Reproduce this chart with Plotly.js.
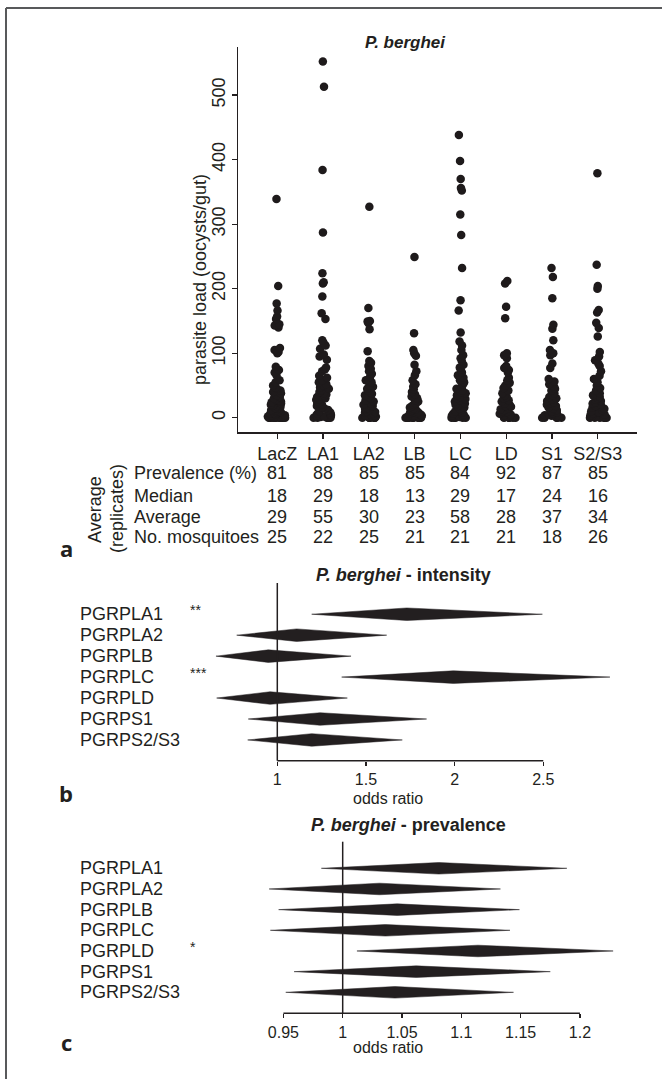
<!DOCTYPE html>
<html><head><meta charset="utf-8">
<script src="https://cdn.plot.ly/plotly-3.0.1.min.js"></script>
<style>html,body{margin:0;padding:0;background:#fff}</style>
</head><body><div id="chart" style="width:662px;height:1079px"></div>
<script>
// ---------- Panel a data ----------
const categories = ['LacZ','LA1','LA2','LB','LC','LD','S1','S2/S3'];
const loadLacZ = [339,204,177,166,157,153,145,143,140,108,105,102,100,79,74,70,66,58,55,50,47,45,42,40,38,35,32,30,28,27,25,24,22,20,19,18,17,15,14,12,11,10,9,8,7,6,5,4,3,2,1,0,0,0,0,0,0,0,0,0,0,0,0];
const loadLA1 = [552,513,384,287,224,210,208,188,162,153,120,116,112,107,98,95,90,78,75,72,65,62,58,55,52,50,47,45,42,40,38,36,34,32,30,29,28,26,24,22,20,18,16,14,12,10,8,6,5,4,3,2,1,0,0,0,0,0];
const loadLA2 = [327,170,150,149,147,137,103,88,85,80,76,72,68,63,58,55,50,48,45,42,40,37,35,32,30,27,25,22,20,18,17,15,14,12,10,9,8,6,5,4,3,2,1,0,0,0,0,0,0,0];
const loadLB = [249,131,105,100,96,82,72,66,58,52,48,44,40,36,33,30,27,25,22,20,18,16,14,13,12,10,9,8,7,6,5,4,3,2,1,0,0,0,0,0,0,0,0,0];
const loadLC = [438,398,370,356,352,315,283,232,182,166,132,118,112,105,97,92,88,82,78,75,70,66,62,58,55,52,48,45,42,40,38,35,32,30,29,27,25,22,20,18,16,14,12,10,8,6,5,4,3,2,1,0,0,0,0,0];
const loadLD = [212,208,172,154,100,97,92,80,77,74,70,62,58,54,50,46,42,38,35,32,30,27,25,22,20,18,17,15,13,12,10,9,8,6,5,4,3,2,1,0,0,0,0,0];
const loadS1 = [232,218,185,144,138,120,105,100,97,84,77,60,56,52,48,45,42,38,35,32,30,28,26,24,22,20,18,16,14,12,10,8,7,5,4,3,2,1,0,0,0,0,0];
const loadS2S3 = [379,237,204,200,167,163,147,139,126,102,95,89,84,80,72,65,60,55,50,46,42,38,35,32,30,28,26,24,22,20,18,17,16,14,12,10,9,8,6,5,4,3,2,1,0,0,0,0,0,0];
const yTicks = [0,100,200,300,400,500];

// table below panel a
const rowLabels = ['Prevalence (%)','Median','Average','No. mosquitoes'];
const prevalence = [81,88,85,85,84,92,87,85];
const medianLoad = [18,29,18,13,29,17,24,16];
const averageLoad = [29,55,30,23,58,28,37,34];
const mosquitoes = [25,22,25,21,21,21,18,26];

// ---------- Panel b / c data ----------
const genes = ['PGRPLA1','PGRPLA2','PGRPLB','PGRPLC','PGRPLD','PGRPS1','PGRPS2/S3'];
const intensityLow  = [1.194,0.771,0.654,1.363,0.658,0.836,0.833];
const intensityEst  = [1.730,1.109,0.949,1.993,0.959,1.241,1.194];
const intensityHigh = [2.495,1.617,1.416,2.876,1.395,1.842,1.705];
const intensityStars = ['**','','','***','','',''];
const intensityTicks = [1,1.5,2,2.5];

const prevLow  = [0.982,0.938,0.946,0.939,1.012,0.959,0.952];
const prevEst  = [1.081,1.031,1.046,1.036,1.114,1.062,1.044];
const prevHigh = [1.189,1.133,1.149,1.141,1.228,1.175,1.144];
const prevStars = ['','','','','*','',''];
const prevalenceTicks = [0.95,1,1.05,1.1,1.15,1.2];

// ---------- helpers ----------
const W = 662, H = 1079;
const fx = p => p / W;
const fy = p => 1 - p / H;
const INK = '#231f20';
const FONT = 'Liberation Sans, Arial, sans-serif';

const groups = [loadLacZ, loadLA1, loadLA2, loadLB, loadLC, loadLD, loadS1, loadS2S3];
const px = [], py = [];
groups.forEach((g, i) => g.forEach(v => { px.push(categories[i]); py.push(v); }));

const traces = [{
  type: 'box', x: px, y: py, xaxis: 'x', yaxis: 'y',
  boxpoints: 'all', jitter: 0.9, pointpos: 0,
  fillcolor: 'rgba(0,0,0,0)', line: {color: 'rgba(0,0,0,0)', width: 0},
  whiskerwidth: 0, marker: {color: '#1e1a1b', size: 8.5, line: {width: 0}},
  showlegend: false, hoverinfo: 'y'
}];

function diamonds(low, est, high, half, xa, ya) {
  low.forEach((l, i) => {
    traces.push({
      type: 'scatter', mode: 'lines', xaxis: xa, yaxis: ya,
      x: [l, est[i], high[i], est[i], l],
      y: [i, i - half, i, i + half, i],
      fill: 'toself', fillcolor: INK, line: {color: INK, width: 0.5},
      showlegend: false, hoverinfo: 'skip'
    });
  });
}
diamonds(intensityLow, intensityEst, intensityHigh, 0.3, 'x2', 'y2');
diamonds(prevLow, prevEst, prevHigh, 0.28, 'x3', 'y3');

const ann = [];
const txt = (o) => ann.push(Object.assign({showarrow: false, xanchor: 'center', yanchor: 'middle',
  font: {family: FONT, size: 18, color: INK}}, o));

// titles
txt({text: '<b><i>P. berghei</i></b>', xref: 'paper', yref: 'paper', x: fx(405), y: fy(42), font: {family: FONT, size: 17, color: INK}});
txt({text: 'parasite load (oocysts/gut)', textangle: -90, xref: 'paper', yref: 'paper', x: fx(200), y: fy(280)});

// table
const tableRows = [prevalence, medianLoad, averageLoad, mosquitoes];
const rowY = [473.3, 496, 517.3, 537.3];
rowLabels.forEach((r, j) => {
  txt({text: r, xref: 'paper', yref: 'paper', x: fx(132), y: fy(rowY[j]), xanchor: 'left'});
  tableRows[j].forEach((v, i) => txt({text: String(v), xref: 'x', yref: 'paper', x: i, y: fy(rowY[j])}));
});
txt({text: 'Average', textangle: -90, xref: 'paper', yref: 'paper', x: fx(95), y: fy(510)});
txt({text: '(replicates)', textangle: -90, xref: 'paper', yref: 'paper', x: fx(117), y: fy(509)});

// panel letters
const letterFont = {family: 'Open Sans, sans-serif', size: 22, color: INK, weight: 700};
txt({text: '<b>a</b>', xref: 'paper', yref: 'paper', x: fx(66), y: fy(548), font: letterFont});
txt({text: '<b>b</b>', xref: 'paper', yref: 'paper', x: fx(66), y: fy(793), font: letterFont});
txt({text: '<b>c</b>', xref: 'paper', yref: 'paper', x: fx(66), y: fy(1042), font: letterFont});

// panel b labels
txt({text: '<b><i>P. berghei</i> - intensity</b>', xref: 'paper', yref: 'paper', x: fx(403), y: fy(575)});
genes.forEach((g, i) => {
  txt({text: g, xref: 'paper', yref: 'y2', x: fx(78), y: i, xanchor: 'left'});
  if (intensityStars[i]) txt({text: intensityStars[i], xref: 'paper', yref: 'y2', x: fx(188), y: i, xanchor: 'left', yshift: 4, font: {family: FONT, size: 14, color: INK}});
});
txt({text: 'odds ratio', xref: 'paper', yref: 'paper', x: fx(388), y: fy(798), font: {family: FONT, size: 16, color: INK}});

// panel c labels
txt({text: '<b><i>P. berghei</i> - prevalence</b>', xref: 'paper', yref: 'paper', x: fx(408), y: fy(825)});
genes.forEach((g, i) => {
  txt({text: g, xref: 'paper', yref: 'y3', x: fx(78), y: i, xanchor: 'left'});
  if (prevStars[i]) txt({text: prevStars[i], xref: 'paper', yref: 'y3', x: fx(188), y: i, xanchor: 'left', yshift: 4, font: {family: FONT, size: 14, color: INK}});
});
txt({text: 'odds ratio', xref: 'paper', yref: 'paper', x: fx(388), y: fy(1047), font: {family: FONT, size: 16, color: INK}});

const shapes = [
  {type: 'line', xref: 'paper', yref: 'paper', x0: fx(6), x1: 1, y0: fy(8), y1: fy(8), line: {color: '#58595b', width: 2}},
  {type: 'line', xref: 'paper', yref: 'paper', x0: fx(6), x1: fx(6), y0: 0, y1: fy(8), line: {color: '#58595b', width: 2}},
  {type: 'line', xref: 'x2', yref: 'y2 domain', x0: 1, x1: 1, y0: 0, y1: 1, line: {color: INK, width: 1.5}},
  {type: 'line', xref: 'x2', yref: 'y2 domain', x0: intensityTicks[0], x1: intensityTicks[intensityTicks.length - 1], y0: 0, y1: 0, line: {color: INK, width: 1.5}},
  {type: 'line', xref: 'x3', yref: 'y3 domain', x0: 1, x1: 1, y0: 0, y1: 1, line: {color: INK, width: 1.5}},
  {type: 'line', xref: 'x3', yref: 'y3 domain', x0: prevalenceTicks[0], x1: prevalenceTicks[prevalenceTicks.length - 1], y0: 0, y1: 0, line: {color: INK, width: 1.5}}
];

const tickFont = {family: FONT, size: 18, color: INK};
const smallTickFont = {family: FONT, size: 16, color: INK};
const layout = {
  width: W, height: H, margin: {l: 0, r: 0, t: 0, b: 0},
  paper_bgcolor: '#fff', plot_bgcolor: 'rgba(0,0,0,0)', showlegend: false,
  xaxis: {domain: [fx(238.3), fx(636.7)], anchor: 'y', type: 'category', categoryarray: categories,
    range: [-0.852, 7.852], showline: true, linecolor: INK, linewidth: 1.5, ticks: 'outside', ticklen: 5,
    tickcolor: INK, tickwidth: 1.2, showgrid: false, zeroline: false, tickfont: tickFont},
  yaxis: {domain: [fy(432.3), fy(46.7)], anchor: 'x', range: [-22.6, 575], tickvals: yTicks, tickangle: -90,
    showline: true, linecolor: INK, linewidth: 1.5, ticks: 'outside', ticklen: 5, tickcolor: INK, tickwidth: 1.2,
    showgrid: false, zeroline: false, tickfont: tickFont},
  xaxis2: {domain: [fx(200), fx(625)], anchor: 'y2', range: [0.564, 2.961], tickvals: intensityTicks,
    ticks: 'outside', ticklen: 4, tickcolor: INK, tickwidth: 1.2, showline: false, showgrid: false, zeroline: false, tickfont: smallTickFont},
  yaxis2: {domain: [fy(760.7), fy(583)], anchor: 'x2', range: [6.99, -1.49], visible: false},
  xaxis3: {domain: [fx(200), fx(625)], anchor: 'y3', range: [0.8797, 1.238], tickvals: prevalenceTicks,
    ticktext: prevalenceTicks.map(String),
    ticks: 'outside', ticklen: 4, tickcolor: INK, tickwidth: 1.2, showline: false, showgrid: false, zeroline: false, tickfont: smallTickFont},
  yaxis3: {domain: [fy(1013.3), fy(841.7)], anchor: 'x3', range: [7.015, -1.287], visible: false},
  annotations: ann, shapes: shapes
};
Plotly.newPlot('chart', traces, layout, {staticPlot: true, displayModeBar: false});
</script></body></html>
